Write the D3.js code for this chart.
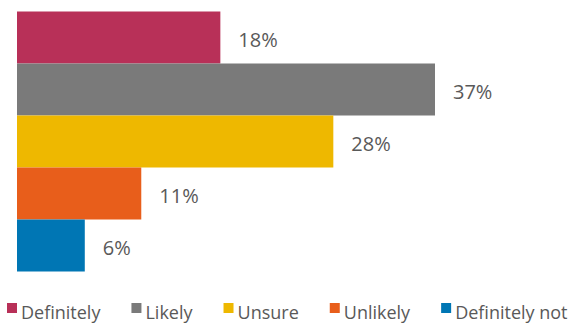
<!DOCTYPE html>
<html>
<head>
<meta charset="utf-8">
<script src="https://cdn.jsdelivr.net/npm/d3@7"></script>
<style>
  html, body { margin: 0; padding: 0; background: #fff; }
  svg { display: block; font-family: "Open Sans", "Noto Sans", sans-serif; }
</style>
</head>
<body>
<svg id="chart" width="583" height="324"></svg>
<script>
// Survey answers and their shares (percent)
const categories = ["Definitely", "Likely", "Unsure", "Unlikely", "Definitely not"];
const values = [18, 37, 28, 11, 6];
const colors = ["#B83058", "#7A7A7A", "#EEB800", "#E85E1B", "#0076B4"];

const svg = d3.select("#chart");

const x = d3.scaleLinear().domain([0, 37]).range([17, 435]);
const y = d3.scaleBand().domain(categories).range([11.5, 271.5]).padding(0);
const color = d3.scaleOrdinal().domain(categories).range(colors);

const data = categories.map((c, i) => ({ cat: c, value: values[i] }));

// Bars
svg.append("g").selectAll("rect")
  .data(data)
  .join("rect")
  .attr("x", x(0))
  .attr("y", d => y(d.cat))
  .attr("width", d => x(d.value) - x(0))
  .attr("height", y.bandwidth())
  .attr("fill", d => color(d.cat));

// Value labels
svg.append("g").selectAll("text")
  .data(data)
  .join("text")
  .attr("x", d => x(d.value) + 18)
  .attr("y", d => y(d.cat) + y.bandwidth() / 2 + 2)
  .attr("dominant-baseline", "central")
  .attr("font-size", 20)
  .attr("fill", "#595959")
  .text(d => d.value + "%");

// Legend laid out left to right
const legend = svg.append("g").attr("transform", "translate(7,303)");
let cx = 0;
categories.forEach(c => {
  const g = legend.append("g").attr("transform", `translate(${cx},0)`);
  g.append("rect").attr("width", 10).attr("height", 10).attr("fill", color(c));
  const t = g.append("text")
    .attr("x", 14)
    .attr("y", 16)
    .attr("font-size", 18)
    .attr("fill", "#595959")
    .text(c);
  cx += 14 + t.node().getComputedTextLength() + 31;
});
</script>
</body>
</html>
